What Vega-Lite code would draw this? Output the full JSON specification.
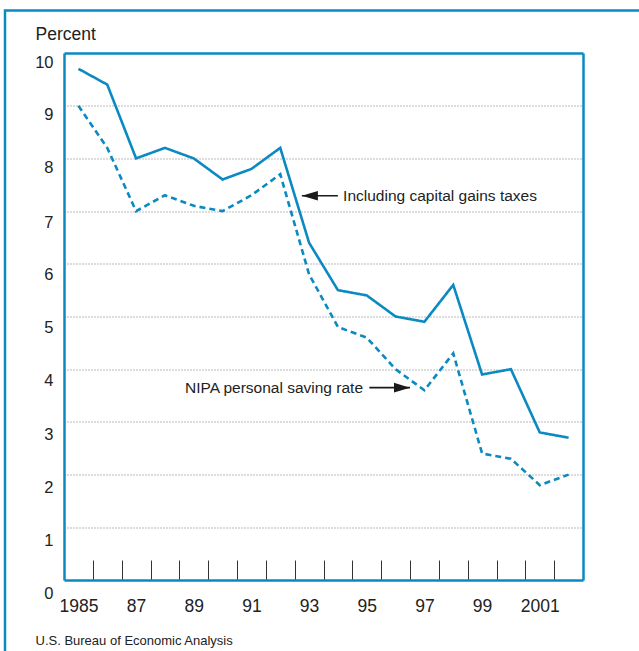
{
  "$schema": "https://vega.github.io/schema/vega-lite/v6.json",
  "width": 640,
  "height": 650,
  "autosize": "none",
  "padding": {"left": 5, "top": 10.5, "right": 0, "bottom": 0},
  "background": "white",
  "config": {
    "font": "Liberation Sans",
    "view": {"stroke": "#0b8ac2", "strokeWidth": 2.5},
    "axis": {"labelColor": "#222", "titleColor": "#222", "labelFont": "Liberation Sans", "titleFont": "Liberation Sans"}
  },
  "datasets": {
    "rates": [
      {"year": 1985, "series": "Including capital gains taxes", "rate": 9.7},
      {"year": 1986, "series": "Including capital gains taxes", "rate": 9.4},
      {"year": 1987, "series": "Including capital gains taxes", "rate": 8.0},
      {"year": 1988, "series": "Including capital gains taxes", "rate": 8.2},
      {"year": 1989, "series": "Including capital gains taxes", "rate": 8.0},
      {"year": 1990, "series": "Including capital gains taxes", "rate": 7.6},
      {"year": 1991, "series": "Including capital gains taxes", "rate": 7.8},
      {"year": 1992, "series": "Including capital gains taxes", "rate": 8.2},
      {"year": 1993, "series": "Including capital gains taxes", "rate": 6.4},
      {"year": 1994, "series": "Including capital gains taxes", "rate": 5.5},
      {"year": 1995, "series": "Including capital gains taxes", "rate": 5.4},
      {"year": 1996, "series": "Including capital gains taxes", "rate": 5.0},
      {"year": 1997, "series": "Including capital gains taxes", "rate": 4.9},
      {"year": 1998, "series": "Including capital gains taxes", "rate": 5.6},
      {"year": 1999, "series": "Including capital gains taxes", "rate": 3.9},
      {"year": 2000, "series": "Including capital gains taxes", "rate": 4.0},
      {"year": 2001, "series": "Including capital gains taxes", "rate": 2.8},
      {"year": 2002, "series": "Including capital gains taxes", "rate": 2.7},
      {"year": 1985, "series": "NIPA personal saving rate", "rate": 9.0},
      {"year": 1986, "series": "NIPA personal saving rate", "rate": 8.2},
      {"year": 1987, "series": "NIPA personal saving rate", "rate": 7.0},
      {"year": 1988, "series": "NIPA personal saving rate", "rate": 7.3},
      {"year": 1989, "series": "NIPA personal saving rate", "rate": 7.1},
      {"year": 1990, "series": "NIPA personal saving rate", "rate": 7.0},
      {"year": 1991, "series": "NIPA personal saving rate", "rate": 7.3},
      {"year": 1992, "series": "NIPA personal saving rate", "rate": 7.7},
      {"year": 1993, "series": "NIPA personal saving rate", "rate": 5.8},
      {"year": 1994, "series": "NIPA personal saving rate", "rate": 4.8},
      {"year": 1995, "series": "NIPA personal saving rate", "rate": 4.6},
      {"year": 1996, "series": "NIPA personal saving rate", "rate": 4.0},
      {"year": 1997, "series": "NIPA personal saving rate", "rate": 3.6},
      {"year": 1998, "series": "NIPA personal saving rate", "rate": 4.3},
      {"year": 1999, "series": "NIPA personal saving rate", "rate": 2.4},
      {"year": 2000, "series": "NIPA personal saving rate", "rate": 2.3},
      {"year": 2001, "series": "NIPA personal saving rate", "rate": 1.8},
      {"year": 2002, "series": "NIPA personal saving rate", "rate": 2.0}
    ],
    "notes": [
      {"label": "Including capital gains taxes", "dir": "left", "tip": 1992.75, "tail": 1994.0, "tx": 1994.18, "y": 7.29},
      {"label": "NIPA personal saving rate", "dir": "right", "tip": 1996.5, "tail": 1995.09, "tx": 1994.87, "y": 3.65}
    ]
  },
  "layer": [
    {
      "data": {"name": "rates"},
      "mark": {"type": "line", "color": "#0b8ac2", "strokeWidth": 2.6},
      "encoding": {
        "x": {
          "field": "year", "type": "quantitative",
          "scale": {"domain": [1984.5, 2002.5], "range": [59, 578], "nice": false, "zero": false},
          "axis": {
            "orient": "bottom", "offset": -80.5,
            "values": [1985, 1985.5, 1986.5, 1987, 1987.5, 1988.5, 1989, 1989.5, 1990.5, 1991, 1991.5, 1992.5, 1993, 1993.5, 1994.5, 1995, 1995.5, 1996.5, 1997, 1997.5, 1998.5, 1999, 1999.5, 2000.5, 2001, 2001.5],
            "labelExpr": "datum.value % 1 != 0 ? '' : ((datum.value == 1985 || datum.value == 2001) ? '' + datum.value : substring('' + datum.value, 2))",
            "labelOverlap": false, "labelFlush": false, "labelBound": false,
            "labelFontSize": 17.5, "labelBaseline": "top", "labelPadding": 37,
            "ticks": true, "tickSize": -20, "tickColor": "#333", "tickWidth": 1,
            "tickOpacity": {"condition": {"test": "datum.value % 1 == 0", "value": 0}, "value": 1},
            "domain": true, "domainColor": "#0b8ac2", "domainWidth": 2.5,
            "grid": false,
            "title": "U.S. Bureau of Economic Analysis",
            "titleX": 30, "titleY": 64.5, "titleAlign": "left", "titleAnchor": null,
            "titleBaseline": "alphabetic", "titleFontSize": 13, "titleFontWeight": "normal"
          }
        },
        "y": {
          "field": "rate", "type": "quantitative",
          "scale": {"domain": [0, 10], "range": [569.5, 42.5], "nice": false},
          "axis": {
            "orient": "left", "offset": -59,
            "values": [0, 1, 2, 3, 4, 5, 6, 7, 8, 9, 10],
            "ticks": false,
            "domain": true, "domainColor": "#0b8ac2", "domainWidth": 2.5,
            "grid": true, "gridColor": "#777", "gridDash": [1, 2], "gridWidth": 1,
            "gridOpacity": {"condition": {"test": "datum.value == 0 || datum.value == 10", "value": 0}, "value": 1},
            "labelFontSize": 16.5, "labelPadding": 11, "labelBaseline": "middle",
            "labelOffset": {"condition": [{"test": "datum.value >= 8", "value": 9.2}, {"test": "datum.value >= 4", "value": 11}], "value": 13},
            "title": "Percent", "titleAngle": 0, "titleX": -29, "titleY": 28.5,
            "titleAlign": "left", "titleAnchor": null, "titleBaseline": "alphabetic",
            "titleFontSize": 17.5, "titleFontWeight": "normal"
          }
        },
        "strokeDash": {
          "field": "series", "type": "nominal",
          "scale": {"domain": ["Including capital gains taxes", "NIPA personal saving rate"], "range": [[1, 0], [6, 4]]},
          "legend": null
        }
      }
    },
    {
      "data": {"name": "notes"},
      "mark": {"type": "rule", "color": "#1a1a1a", "strokeWidth": 1.6},
      "encoding": {
        "x": {
          "field": "tip", "type": "quantitative",
          "scale": {"domain": [1984.5, 2002.5], "range": [59, 578], "nice": false, "zero": false},
          "axis": {"orient": "top", "offset": -42.5, "labels": false, "ticks": false, "grid": false, "domain": true, "domainColor": "#0b8ac2", "domainWidth": 2.5, "title": null}
        },
        "x2": {"field": "tail"},
        "y": {
          "field": "y", "type": "quantitative",
          "scale": {"domain": [0, 10], "range": [569.5, 42.5], "nice": false},
          "axis": {"orient": "right", "offset": -62, "labels": false, "ticks": false, "grid": false, "domain": true, "domainColor": "#0b8ac2", "domainWidth": 2.5, "title": null}
        }
      }
    },
    {
      "data": {"name": "notes"},
      "mark": {"type": "point", "filled": true, "color": "#1a1a1a", "opacity": 1, "size": 256, "strokeWidth": 0},
      "encoding": {
        "x": {"field": "tip", "type": "quantitative", "axis": null},
        "y": {"field": "y", "type": "quantitative", "axis": null},
        "shape": {
          "field": "dir", "type": "nominal",
          "scale": {"domain": ["left", "right"], "range": ["M0,0L2,-0.6L2,0.6Z", "M0,0L-2,-0.6L-2,0.6Z"]},
          "legend": null
        }
      }
    },
    {
      "data": {"name": "notes"},
      "transform": [{"filter": "datum.dir == 'left'"}],
      "mark": {"type": "text", "align": "left", "baseline": "middle", "fontSize": 15.5, "color": "#222"},
      "encoding": {
        "x": {"field": "tx", "type": "quantitative", "axis": null},
        "y": {"field": "y", "type": "quantitative", "axis": null},
        "text": {"field": "label"}
      }
    },
    {
      "data": {"name": "notes"},
      "transform": [{"filter": "datum.dir == 'right'"}],
      "mark": {"type": "text", "align": "right", "baseline": "middle", "fontSize": 15.5, "color": "#222"},
      "encoding": {
        "x": {"field": "tx", "type": "quantitative", "axis": null},
        "y": {"field": "y", "type": "quantitative", "axis": null},
        "text": {"field": "label"}
      }
    }
  ],
  "resolve": {"axis": {"x": "independent", "y": "independent"}}
}
